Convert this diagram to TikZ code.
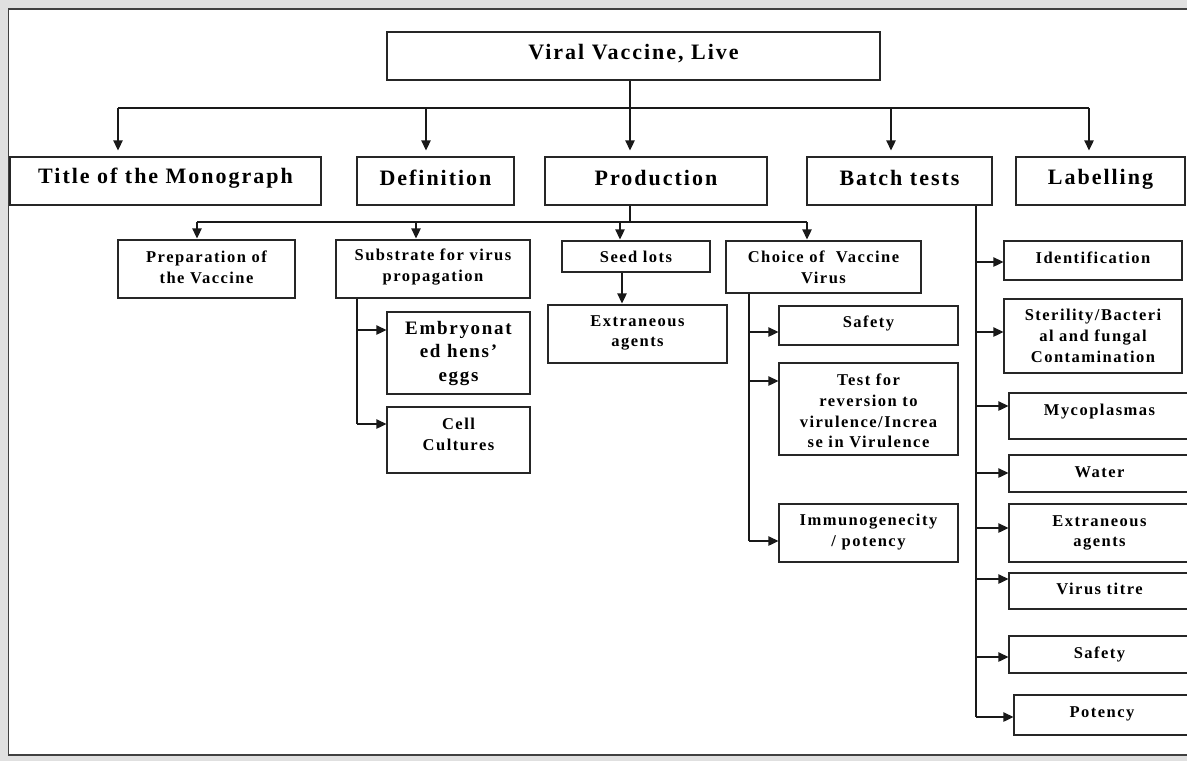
\documentclass[tikz,border=0pt]{standalone}
\usepackage{fontspec}
\setmainfont{Liberation Serif}[LetterSpace=9]
\usetikzlibrary{arrows.meta}
\tikzset{
  box/.style={draw=black!85, line width=1.3pt, fill=white, inner sep=0pt},
  lbl/.style={inner sep=0pt, align=center, font=\bfseries\fontsize{16.5}{20.8}\selectfont},
  head/.style={font=\bfseries\fontsize{22}{26}\selectfont},
  egg/.style={font=\bfseries\fontsize{19}{23.5}\selectfont},
  link/.style={draw=black!90, line width=1.3pt},
  arr/.style={link, -{Triangle[length=10pt,width=9.5pt]}},
}
% #1 name, #2 centre, #3 width, #4 height, #5 label options, #6 text
\newcommand\flowbox[6]{%
  \node[box, minimum width=#3pt, minimum height=#4pt] (#1) at #2 {};
  \node[lbl, #5] (#1-t) at (#1.center) {#6};
}
\begin{document}
\begin{tikzpicture}[x=1pt,y=-1pt]
\clip (0,0) rectangle (1187,761);
\useasboundingbox (0,0) rectangle (1187,761);
% page frame
\fill[black!12] (0,0) rectangle (1187,761);
\filldraw[fill=white, draw=black!75, line width=1.3pt] (8.5,9) rectangle (1200,755);

% top node
\flowbox{vv}{(633.5,56)}{493}{48}{head, yshift=2pt}{Viral Vaccine, Live}

% first level
\flowbox{title}{(165.5,181)}{311}{48}{head, yshift=3pt}{Title of the Monograph}
\flowbox{def}{(435.5,181)}{157}{48}{head, yshift=3pt}{Definition}
\flowbox{prod}{(656,181)}{222}{48}{head, yshift=3pt}{Production}
\flowbox{batch}{(899.5,181)}{185}{48}{head, yshift=3pt}{Batch tests}
\flowbox{label}{(1100.5,181)}{169}{48}{head, yshift=2pt}{Labelling}

% production
\flowbox{prep}{(206.5,269)}{177}{58}{yshift=2pt}{Preparation of\\the Vaccine}
\flowbox{subs}{(433,269)}{194}{58}{yshift=2pt}{Substrate for virus\\propagation}
\flowbox{seed}{(636,256.5)}{148}{31}{}{Seed lots}
\flowbox{choice}{(823.5,267)}{195}{52}{}{Choice of\ \ Vaccine\\Virus}
\flowbox{extra}{(637.5,334)}{179}{58}{yshift=1pt}{Extraneous\\agents}
\flowbox{embryo}{(458.5,353)}{143}{82}{egg}{Embryonat\\ed hens'\\eggs}
\flowbox{cell}{(458.5,440)}{143}{66}{yshift=6pt}{Cell\\Cultures}
\flowbox{csafety}{(868.5,325.5)}{179}{39}{yshift=2pt}{Safety}
\flowbox{revert}{(868.5,409)}{179}{92}{yshift=-2pt}{Test for\\reversion to\\virulence/Increa\\se in Virulence}
\flowbox{immuno}{(868.5,533)}{179}{58}{yshift=1pt}{Immunogenecity\\/ potency}

% batch tests
\flowbox{ident}{(1093,260.5)}{178}{39}{yshift=3pt}{Identification}
\flowbox{steril}{(1093,336)}{178}{74}{}{Sterility/Bacteri\\al and fungal\\Contamination}
\flowbox{myco}{(1099.5,416)}{181}{46}{yshift=4pt}{Mycoplasmas}
\flowbox{water}{(1099.5,473.5)}{181}{37}{yshift=1pt}{Water}
\flowbox{bextra}{(1099.5,533)}{181}{58}{}{Extraneous\\agents}
\flowbox{titre}{(1099.5,591)}{181}{36}{yshift=2pt}{Virus titre}
\flowbox{bsafety}{(1099.5,654.5)}{181}{37}{}{Safety}
\flowbox{potency}{(1102,715)}{176}{40}{yshift=1pt}{Potency}

% first level connectors
\coordinate (b1) at (118,108);
\coordinate (b2) at (426,108);
\coordinate (b3) at (630,108);
\coordinate (b4) at (891,108);
\coordinate (b5) at (1089,108);
\draw[link] (vv.south -| b3) -- (b3);
\draw[link] (b1) -- (b5);
\foreach \c/\n in {b1/title,b2/def,b3/prod,b4/batch,b5/label}
  \draw[arr, shorten >=6pt] (\c) -- (\c |- \n.north);

% production connectors
\coordinate (c0) at (630,222);
\coordinate (c1) at (197,222);
\coordinate (c2) at (416,222);
\coordinate (c3) at (620,222);
\coordinate (c4) at (807,222);
\draw[link] (prod.south -| c0) -- (c0);
\draw[link] (c1) -- (c4);
\foreach \c/\n in {c1/prep,c2/subs,c3/seed,c4/choice}
  \draw[arr, shorten >=1pt] (\c) -- (\c |- \n.north);

\coordinate (s0) at (622,272);
\draw[arr, shorten >=1pt] (seed.south -| s0) -- (s0 |- extra.north);

% substrate branches
\coordinate (e1) at (357,330);
\coordinate (e2) at (357,424);
\draw[link] (subs.south -| e1) -- (e2);
\draw[arr] (e1) -- (e1 -| embryo.west);
\draw[arr] (e2) -- (e2 -| cell.west);

% choice of vaccine virus branches
\coordinate (v1) at (749,332);
\coordinate (v2) at (749,381);
\coordinate (v3) at (749,541);
\draw[link] (choice.south -| v1) -- (v3);
\draw[arr] (v1) -- (v1 -| csafety.west);
\draw[arr] (v2) -- (v2 -| revert.west);
\draw[arr] (v3) -- (v3 -| immuno.west);

% batch test branches
\coordinate (w1) at (976,262);
\coordinate (w2) at (976,332);
\coordinate (w3) at (976,406);
\coordinate (w4) at (976,473);
\coordinate (w5) at (976,528);
\coordinate (w6) at (976,579);
\coordinate (w7) at (976,657);
\coordinate (w8) at (976,717);
\draw[link] (batch.south -| w1) -- (w8);
\foreach \c/\n in {w1/ident,w2/steril,w3/myco,w4/water,w5/bextra,w6/titre,w7/bsafety,w8/potency}
  \draw[arr] (\c) -- (\c -| \n.west);
\end{tikzpicture}
\end{document}
